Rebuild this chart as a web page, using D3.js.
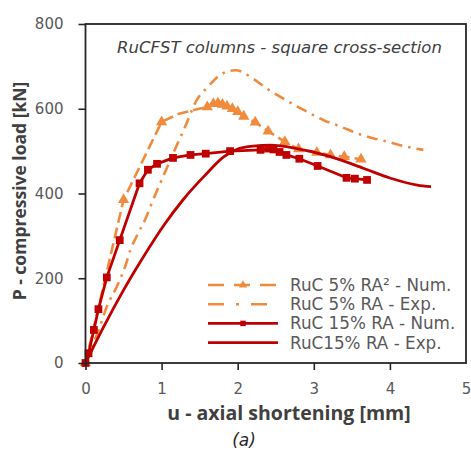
<!DOCTYPE html>
<html>
<head>
<meta charset="utf-8">
<script src="https://cdn.jsdelivr.net/npm/d3@7"></script>
<style>
  body { margin: 0; background: #fff; }
  svg { display: block; }
</style>
</head>
<body>
<svg id="chart" width="471" height="456"></svg>
<script>
// axis ticks
const xTicks = [0, 1, 2, 3, 4, 5];
const yTicks = [0, 200, 400, 600, 800];

// RuC 5% RA - Num. (triangles)
const orNumU = [0, 0.5, 1.0, 1.24, 1.45, 1.6, 1.68, 1.74, 1.8, 1.86, 1.93, 2.0, 2.08, 2.23, 2.4, 2.62, 2.8, 3.04, 3.22, 3.4, 3.62];
const orNumP = [0, 385, 569, 589, 598, 604, 612, 613, 610, 606, 600, 593, 582, 568, 547, 522, 505, 497, 491, 487, 481];
// which of the points above carry a marker
const orNumMark = [1, 1, 1, 0, 0, 1, 1, 1, 1, 1, 1, 1, 1, 1, 1, 1, 1, 1, 1, 1, 1];

// RuC 5% RA - Exp.
const orExpU = [0, 0.19, 0.28, 0.41, 0.52, 0.59, 0.68, 0.79, 0.87, 1.02, 1.22, 1.31, 1.46, 1.61, 1.77, 1.97, 2.21, 2.38, 2.56, 2.91, 3.13, 3.35, 3.57, 3.79, 3.97, 4.23, 4.44];
const orExpP = [0, 86, 133, 180, 227, 267, 302, 341, 377, 440, 522, 558, 620, 652, 680, 691, 670, 648, 628, 593, 573, 558, 542, 530, 522, 510, 503];

// RuC 15% RA - Num. (squares)
const rdNumU = [0, 0.04, 0.11, 0.17, 0.28, 0.45, 0.71, 0.82, 0.94, 1.15, 1.38, 1.58, 1.9, 2.3, 2.4, 2.47, 2.55, 2.64, 2.81, 3.05, 3.43, 3.54, 3.7];
const rdNumP = [0, 23, 78, 127, 202, 290, 424, 456, 470, 484, 491, 494, 500, 503, 506, 504, 498, 491, 482, 465, 437, 435, 432];

// RuC15% RA - Exp.
const rdExpU = [0, 0.24, 0.5, 0.77, 1.03, 1.29, 1.56, 1.82, 2.0, 2.2, 2.43, 2.78, 3.22, 3.66, 4.01, 4.36, 4.54];
const rdExpP = [0, 86, 172, 253, 325, 387, 441, 487, 505, 512, 514, 506, 487, 459, 436, 420, 416];

const legendLabels = ["RuC 5% RA² - Num.", "RuC 5% RA - Exp.", "RuC 15% RA - Num.", "RuC15% RA - Exp."];

const orange = "#f08a3c";
const red = "#c00000";

const svg = d3.select("#chart");
const margin = {top: 24, right: 5, bottom: 93, left: 85.5};
const width = 471, height = 456;
const innerWidth = width - margin.left - margin.right;
const innerHeight = height - margin.top - margin.bottom;

const xScale = d3.scaleLinear().domain([0, 5]).range([0, innerWidth]);
const yScale = d3.scaleLinear().domain([0, 800]).range([innerHeight, 0]);

const g = svg.append("g")
    .attr("transform", "translate(" + margin.left + "," + margin.top + ")");

const zip = (us, ps, marks) => us.map((u, i) => ({u: u, p: ps[i], mark: marks ? marks[i] : 1}));

const smooth = d3.line()
    .x(d => xScale(d.u))
    .y(d => yScale(d.p))
    .curve(d3.curveMonotoneX);

const straight = d3.line()
    .x(d => xScale(d.u))
    .y(d => yScale(d.p));

const series = [
    {data: zip(orExpU, orExpP), color: orange, width: 2.6, dash: "11,6,2.5,6", marker: null, line: smooth},
    {data: zip(orNumU, orNumP, orNumMark), color: orange, width: 2.6, dash: "11,5", marker: "tri", line: straight},
    {data: zip(rdExpU, rdExpP), color: red, width: 2.8, dash: null, marker: null, line: smooth},
    {data: zip(rdNumU, rdNumP), color: red, width: 2.8, dash: null, marker: "sq", line: straight}
];

series.forEach(s => {
    g.append("path")
        .datum(s.data)
        .attr("fill", "none")
        .attr("stroke", s.color)
        .attr("stroke-width", s.width)
        .attr("stroke-dasharray", s.dash)
        .attr("stroke-linejoin", "round")
        .attr("d", s.line);
    if (s.marker) {
        g.append("g").selectAll("path")
            .data(s.data.filter(d => d.mark))
            .enter()
            .append("path")
            .attr("transform", d => "translate(" + xScale(d.u) + "," + yScale(d.p) + ")")
            .attr("d", d3.symbol().type(s.marker === "tri" ? d3.symbolTriangle : d3.symbolSquare).size(s.marker === "tri" ? 55 : 60))
            .attr("fill", s.color);
    }
});

// axes
const yAxis = d3.axisLeft(yScale).tickValues(yTicks).tickSize(7).tickPadding(15);
const xAxis = d3.axisBottom(xScale).tickValues(xTicks).tickSize(7).tickPadding(13).tickFormat(d3.format("d"));

const axisColor = "#262626";
const tickText = "#595959";

const yg = g.append("g").call(yAxis);
const xg = g.append("g").attr("transform", "translate(0," + innerHeight + ")").call(xAxis);
[yg, xg].forEach(a => {
    a.select(".domain").remove();
    a.selectAll(".tick line").attr("stroke", axisColor).attr("stroke-width", 1.6);
    a.selectAll(".tick text")
        .attr("fill", tickText)
        .style("font-family", "'DejaVu Sans', sans-serif")
        .style("font-size", "15px");
});
xg.selectAll(".tick line").attr("y2", d => (d === 5 ? 0 : 7));

// frame
g.append("rect")
    .attr("width", innerWidth)
    .attr("height", innerHeight)
    .attr("fill", "none")
    .attr("stroke", axisColor)
    .attr("stroke-width", 1.8);

// chart title
g.append("text")
    .attr("x", 194)
    .attr("y", 29)
    .attr("text-anchor", "middle")
    .attr("fill", "#404040")
    .style("font-family", "'DejaVu Sans', sans-serif")
    .style("font-style", "italic")
    .style("font-size", "16.5px")
    .text("RuCFST columns - square cross-section");

// axis titles
svg.append("text")
    .attr("x", 289)
    .attr("y", 420)
    .attr("text-anchor", "middle")
    .attr("fill", "#404040")
    .style("font-family", "'Open Sans', sans-serif")
    .style("font-weight", "bold")
    .style("font-size", "19.5px")
    .text("u - axial shortening [mm]");

svg.append("text")
    .attr("transform", "translate(26,191) rotate(-90)")
    .attr("text-anchor", "middle")
    .attr("fill", "#404040")
    .style("font-family", "'Open Sans', sans-serif")
    .style("font-weight", "bold")
    .style("font-size", "17.5px")
    .text("P - compressive load [kN]");

svg.append("text")
    .attr("x", 244)
    .attr("y", 446)
    .attr("text-anchor", "middle")
    .attr("fill", "#262626")
    .style("font-family", "'DejaVu Sans', sans-serif")
    .style("font-style", "italic")
    .style("font-size", "17px")
    .text("(a)");

// legend
const legend = svg.append("g").attr("transform", "translate(208,285)");
const rowH = 19.2;
const legendStyles = [series[1], series[0], series[3], series[2]];
legendStyles.forEach((s, i) => {
    const row = legend.append("g").attr("transform", "translate(0," + i * rowH + ")");
    row.append("line")
        .attr("x1", 0).attr("x2", 70)
        .attr("stroke", s.color)
        .attr("stroke-width", s.width)
        .attr("stroke-dasharray", s.dash ? (s.marker ? "16,10" : "16,12,3,12") : null);
    if (s.marker) {
        row.append("path")
            .attr("transform", "translate(35,0)")
            .attr("d", d3.symbol().type(s.marker === "tri" ? d3.symbolTriangle : d3.symbolSquare).size(30))
            .attr("fill", s.color);
    }
    row.append("text")
        .attr("x", 82)
        .attr("y", 6)
        .attr("fill", "#595959")
        .style("font-family", "'DejaVu Sans', sans-serif")
        .style("font-size", "16.8px")
        .text(legendLabels[i]);
});
</script>
</body>
</html>
